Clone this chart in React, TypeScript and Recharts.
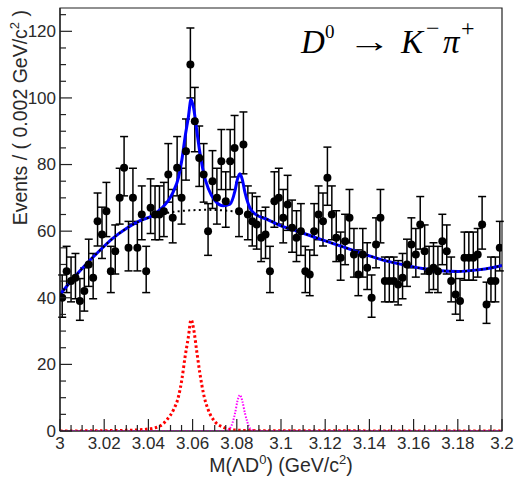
import React from 'react'
import {
  ComposedChart,
  Scatter,
  Line,
  XAxis,
  YAxis,
  ErrorBar,
  ReferenceArea,
} from 'recharts'

// binning of the histogram (0.002 GeV/c^2 bins from 3.0)
const BIN_START = 3.0
const BIN_WIDTH = 0.002

// events per bin
const binCounts = [
  40, 48, 45, 46, 39, 42, 50, 46, 63, 59,
  66, 48, 54, 70, 79, 55, 70, 55, 65, 48,
  67, 65, 65, 66, 77, 64, 79, 70, 84, 110,
  93, 82, 77, 60, 75, 70, 81, 69, 81, 85,
  66, 86, 65, 63, 62, 58, 59, 48, 69, 70,
  64, 68, 61, 58, 60, 48, 47, 60, 65, 63,
  76, 65, 58, 52, 57, 64, 53, 47, 53, 49,
  40, 56, 64, 45, 45, 45, 44, 46, 50, 56,
  53, 62, 54, 48, 49, 48, 57, 54, 45, 41,
  39, 52, 52, 52, 53, 62, 38, 45, 45, 55,
]

// total fit (blue)
const totalMass = [
  3.0, 3.006, 3.012, 3.018, 3.024, 3.03, 3.036, 3.042, 3.046, 3.049,
  3.0513, 3.0536, 3.0551, 3.0566, 3.0581, 3.0593, 3.0605, 3.0618, 3.0633, 3.0649,
  3.0671, 3.0701, 3.0739, 3.0769, 3.0792, 3.0803, 3.0814, 3.0825, 3.0837, 3.086,
  3.088, 3.0935, 3.1, 3.108, 3.116, 3.124, 3.132, 3.14, 3.148, 3.156,
  3.164, 3.172, 3.18, 3.188, 3.196, 3.2,
]
const totalEvents = [
  41.0, 45.8, 50.2, 54.2, 57.9, 60.8, 63.1, 64.7, 66.9, 69.2,
  71.9, 76.1, 81.2, 88.3, 94.3, 99.6, 96.8, 90.6, 83.6, 77.7,
  72.8, 69.2, 67.6, 68.1, 72.2, 75.6, 77.2, 75.5, 71.6, 66.9,
  65.3, 63.6, 61.6, 59.9, 58.0, 56.2, 54.4, 52.6, 51.0, 49.8,
  48.8, 48.1, 47.9, 48.3, 49.1, 49.7,
]

// background component (black dotted)
const bgMass = [
  3.0, 3.006, 3.012, 3.018, 3.024, 3.03, 3.036, 3.042, 3.048, 3.054,
  3.06, 3.066, 3.072, 3.078, 3.084, 3.09, 3.096, 3.1, 3.108, 3.116,
  3.124, 3.132, 3.14, 3.148, 3.156, 3.164, 3.172, 3.18, 3.188, 3.196, 3.2,
]
const bgEvents = [
  41.0, 45.8, 50.2, 54.2, 57.9, 60.8, 63.0, 64.4, 65.4, 66.0,
  66.3, 66.4, 66.3, 66.0, 65.5, 64.6, 62.9, 61.6, 59.9, 58.0,
  56.2, 54.4, 52.6, 51.0, 49.8, 48.8, 48.1, 47.9, 48.3, 49.1, 49.7,
]

// first signal peak (red dotted)
const peak1Mass = [
  3.0, 3.03, 3.04, 3.0452, 3.0483, 3.0513, 3.0536, 3.0551, 3.0566, 3.0581,
  3.0593, 3.0605, 3.0618, 3.0633, 3.0649, 3.0671, 3.0701, 3.0739, 3.0784, 3.09, 3.2,
]
const peak1Events = [
  0, 0.2, 0.6, 1.5, 3.3, 6.3, 10.3, 15.3, 22.3, 28.3,
  33.4, 30.5, 24.3, 17.3, 11.3, 6.3, 2.8, 1.1, 0.3, 0.1, 0,
]

// second signal peak (magenta dotted)
const peak2Mass = [3.0, 3.075, 3.0769, 3.0792, 3.0803, 3.0814, 3.0825, 3.0837, 3.086, 3.088, 3.2]
const peak2Events = [0, 0, 0.8, 5.3, 9.0, 10.8, 9.0, 5.3, 0.8, 0, 0]

const xMajorTicks = [3.0, 3.02, 3.04, 3.06, 3.08, 3.1, 3.12, 3.14, 3.16, 3.18, 3.2]
const xMajorLabels = ['3', '3.02', '3.04', '3.06', '3.08', '3.1', '3.12', '3.14', '3.16', '3.18', '3.2']
const yMajorTicks = [0, 20, 40, 60, 80, 100, 120]

const Y_MAX = 127

// minor ticks: 4 per major division
const xTicks: number[] = []
for (let i = 0; i <= 40; i++) xTicks.push(Math.round((3 + i * 0.005) * 1000) / 1000)
const yTicks: number[] = []
for (let v = 0; v <= 125; v += 5) yTicks.push(v)

const points = binCounts.map((n, i) => {
  const s = Math.sqrt(n + 0.25)
  return {
    x: BIN_START + BIN_WIDTH * (i + 0.5),
    y: n,
    err: [s - 0.5, s + 0.5],
  }
})

const zip = (xs: number[], ys: number[]) => xs.map((x, i) => ({ x, y: ys[i] }))
const totalCurve = zip(totalMass, totalEvents)
const bgCurve = zip(bgMass, bgEvents)
const peak1Curve = zip(peak1Mass, peak1Events)
const peak2Curve = zip(peak2Mass, peak2Events)

const FONT = "'Liberation Sans', Arial, Helvetica, sans-serif"
const SERIF = "'Liberation Serif', 'DejaVu Serif', serif"
const TEXT = '#2a2a2a'

const XTick = ({ x, y, payload }: any) => {
  const v = payload.value
  const idx = xMajorTicks.findIndex((t) => Math.abs(t - v) < 1e-6)
  const major = idx >= 0
  return (
    <g>
      <line x1={x} y1={y} x2={x} y2={y - (major ? 12 : 6)} stroke="#222" strokeWidth={1.2} />
      {major && (
        <text x={x} y={y + 18} textAnchor="middle" fontFamily={FONT} fontSize={17} fill={TEXT}>
          {xMajorLabels[idx]}
        </text>
      )}
    </g>
  )
}

const YTick = ({ x, y, payload }: any) => {
  const v = payload.value
  const major = yMajorTicks.includes(v)
  return (
    <g>
      <line x1={x} y1={y} x2={x + (major ? 12 : 6)} y2={y} stroke="#222" strokeWidth={1.2} />
      {major && (
        <text x={x - 4} y={y} dy="0.35em" textAnchor="end" fontFamily={FONT} fontSize={17} fill={TEXT}>
          {v}
        </text>
      )}
    </g>
  )
}

const Dot = (p: any) => <circle cx={p.cx} cy={p.cy} r={4} fill="#000" />

export default function App() {
  return (
    <div style={{ position: 'absolute', left: 0, top: 0, width: 519, height: 477, background: '#fff' }}>
      <ComposedChart
        width={519}
        height={477}
        margin={{ top: 8, right: 17, left: 0, bottom: 0 }}
      >
        <XAxis
          type="number"
          dataKey="x"
          domain={[3, 3.2]}
          ticks={xTicks}
          interval={0}
          tickLine={false}
          tickSize={0}
          tickMargin={0}
          tick={(props: any) => <XTick {...props} />}
          axisLine={{ stroke: '#222', strokeWidth: 1.2 }}
          height={46}
          allowDataOverflow
        />
        <YAxis
          type="number"
          domain={[0, Y_MAX]}
          ticks={yTicks}
          interval={0}
          tickLine={false}
          tickSize={0}
          tickMargin={0}
          tick={(props: any) => <YTick {...props} />}
          axisLine={{ stroke: '#222', strokeWidth: 1.2 }}
          width={60}
          allowDataOverflow
        />
        <Scatter data={points} dataKey="y" shape={Dot} isAnimationActive={false}>
          <ErrorBar dataKey="err" direction="y" width={4} stroke="#000" strokeWidth={1.5} />
        </Scatter>
        <Line
          data={totalCurve}
          dataKey="y"
          type="monotone"
          stroke="#0000ff"
          strokeWidth={3}
          dot={false}
          activeDot={false}
          isAnimationActive={false}
        />
        <Line
          data={bgCurve}
          dataKey="y"
          type="monotone"
          stroke="#000"
          strokeWidth={2}
          strokeDasharray="2 3.3"
          dot={false}
          activeDot={false}
          isAnimationActive={false}
        />
        <Line
          data={peak1Curve}
          dataKey="y"
          type="monotone"
          stroke="#ff0000"
          strokeWidth={3}
          strokeDasharray="2.5 2.5"
          dot={false}
          activeDot={false}
          isAnimationActive={false}
        />
        <Line
          data={peak2Curve}
          dataKey="y"
          type="monotone"
          stroke="#ff00ff"
          strokeWidth={2}
          strokeDasharray="1.5 1.5"
          dot={false}
          activeDot={false}
          isAnimationActive={false}
        />
        <ReferenceArea x1={3} x2={3.2} y1={0} y2={Y_MAX} fill="none" stroke="#222" strokeWidth={1.2} />
      </ComposedChart>
      <svg
        width={519}
        height={477}
        style={{ position: 'absolute', left: 0, top: 0, pointerEvents: 'none' }}
      >
        <text
          transform="translate(27, 10) rotate(-90)"
          textAnchor="end"
          fontFamily={FONT}
          fontSize={19.5}
          fill={TEXT}
        >
          <tspan>Events / ( 0.002 GeV/c</tspan>
          <tspan fontSize={13} dy={-8}>2</tspan>
          <tspan dy={8}> )</tspan>
        </text>
        <text x={281} y={471.5} textAnchor="middle" fontFamily={FONT} fontSize={19.5} fill={TEXT}>
          <tspan>M(ΛD</tspan>
          <tspan fontSize={13} dy={-8}>0</tspan>
          <tspan dy={8}>) (GeV/c</tspan>
          <tspan fontSize={13} dy={-8}>2</tspan>
          <tspan dy={8}>)</tspan>
        </text>
        <g fontFamily={SERIF} fill="#000">
          <text x={301} y={53} fontSize={33} fontStyle="italic">D</text>
          <text x={325} y={38} fontSize={19}>0</text>
          <text transform="translate(348, 52) scale(1.4, 1)" x={0} y={0} fontSize={31}>→</text>
          <text x={401} y={53} fontSize={33} fontStyle="italic">K</text>
          <text x={426} y={36} fontSize={24}>−</text>
          <text x={443} y={53} fontSize={33} fontStyle="italic">π</text>
          <text x={461} y={36} fontSize={24}>+</text>
        </g>
      </svg>
    </div>
  )
}
